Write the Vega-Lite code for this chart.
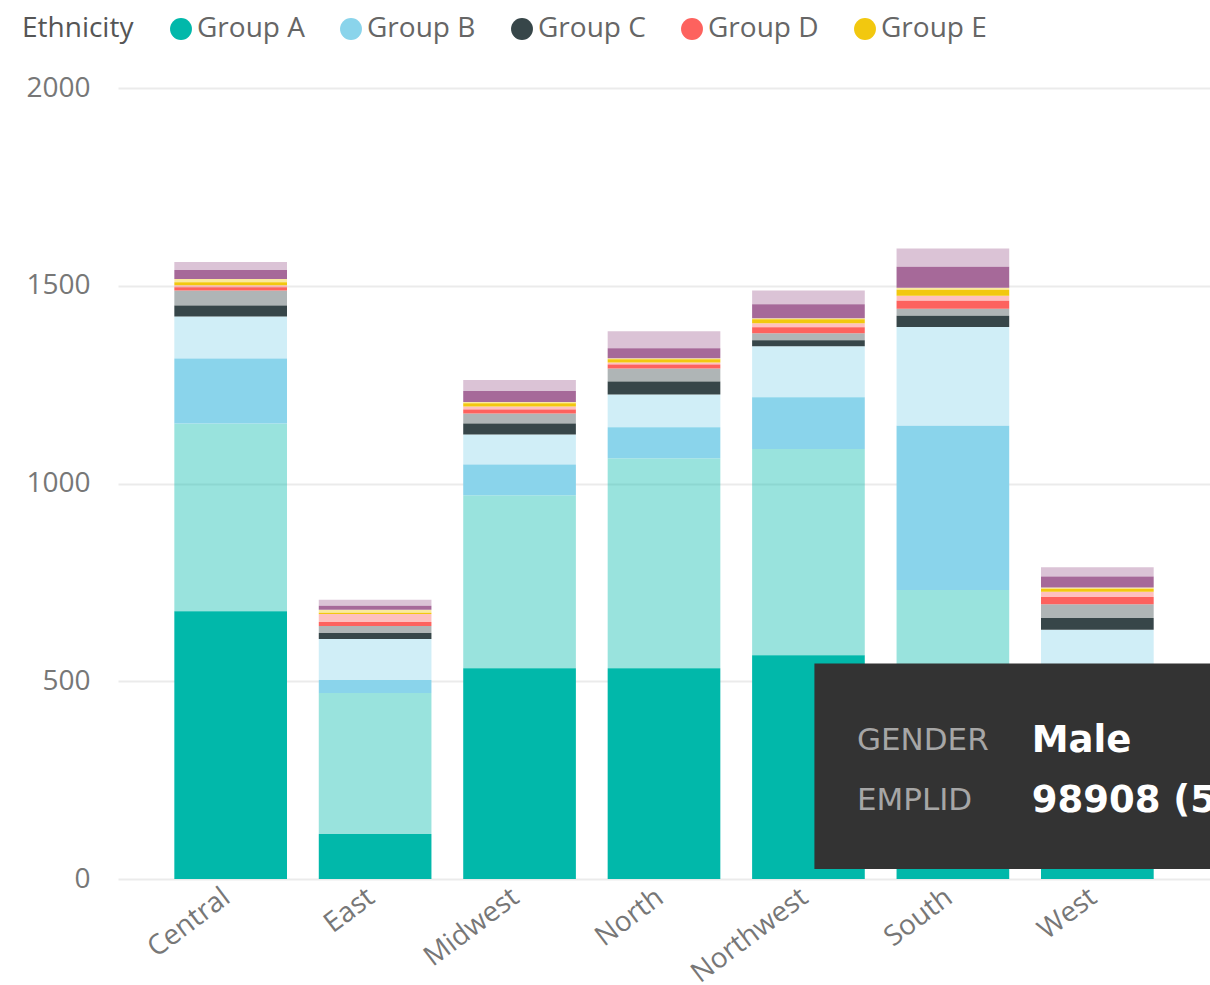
{
  "$schema": "https://vega.github.io/schema/vega-lite/v6.json",
  "autosize": {"type": "none"},
  "padding": {"left": 118, "top": 88, "right": 0, "bottom": 106},
  "width": 1092,
  "height": 791,
  "background": "white",
  "config": {
    "view": {"stroke": null},
    "font": "Open Sans",
    "axis": {"labelFont": "Open Sans", "labelColor": "#777777", "labelFontSize": 28}
  },
  "datasets": {
    "main": [
      {"region": "Central", "ethnicity": "Group A", "gender": "Male", "count": 677},
      {"region": "Central", "ethnicity": "Group A", "gender": "Female", "count": 475},
      {"region": "Central", "ethnicity": "Group B", "gender": "Male", "count": 164},
      {"region": "Central", "ethnicity": "Group B", "gender": "Female", "count": 106},
      {"region": "Central", "ethnicity": "Group C", "gender": "Male", "count": 28},
      {"region": "Central", "ethnicity": "Group C", "gender": "Female", "count": 38},
      {"region": "Central", "ethnicity": "Group D", "gender": "Male", "count": 8},
      {"region": "Central", "ethnicity": "Group D", "gender": "Female", "count": 5},
      {"region": "Central", "ethnicity": "Group E", "gender": "Male", "count": 8},
      {"region": "Central", "ethnicity": "Group E", "gender": "Female", "count": 8},
      {"region": "Central", "ethnicity": "Group F", "gender": "Male", "count": 23},
      {"region": "Central", "ethnicity": "Group F", "gender": "Female", "count": 20},
      {"region": "East", "ethnicity": "Group A", "gender": "Male", "count": 114},
      {"region": "East", "ethnicity": "Group A", "gender": "Female", "count": 356},
      {"region": "East", "ethnicity": "Group B", "gender": "Male", "count": 33},
      {"region": "East", "ethnicity": "Group B", "gender": "Female", "count": 104},
      {"region": "East", "ethnicity": "Group C", "gender": "Male", "count": 15},
      {"region": "East", "ethnicity": "Group C", "gender": "Female", "count": 18},
      {"region": "East", "ethnicity": "Group D", "gender": "Male", "count": 10},
      {"region": "East", "ethnicity": "Group D", "gender": "Female", "count": 20},
      {"region": "East", "ethnicity": "Group E", "gender": "Male", "count": 3},
      {"region": "East", "ethnicity": "Group E", "gender": "Female", "count": 8},
      {"region": "East", "ethnicity": "Group F", "gender": "Male", "count": 10},
      {"region": "East", "ethnicity": "Group F", "gender": "Female", "count": 15},
      {"region": "Midwest", "ethnicity": "Group A", "gender": "Male", "count": 533},
      {"region": "Midwest", "ethnicity": "Group A", "gender": "Female", "count": 437},
      {"region": "Midwest", "ethnicity": "Group B", "gender": "Male", "count": 78},
      {"region": "Midwest", "ethnicity": "Group B", "gender": "Female", "count": 76},
      {"region": "Midwest", "ethnicity": "Group C", "gender": "Male", "count": 28},
      {"region": "Midwest", "ethnicity": "Group C", "gender": "Female", "count": 25},
      {"region": "Midwest", "ethnicity": "Group D", "gender": "Male", "count": 10},
      {"region": "Midwest", "ethnicity": "Group D", "gender": "Female", "count": 8},
      {"region": "Midwest", "ethnicity": "Group E", "gender": "Male", "count": 8},
      {"region": "Midwest", "ethnicity": "Group E", "gender": "Female", "count": 3},
      {"region": "Midwest", "ethnicity": "Group F", "gender": "Male", "count": 28},
      {"region": "Midwest", "ethnicity": "Group F", "gender": "Female", "count": 28},
      {"region": "North", "ethnicity": "Group A", "gender": "Male", "count": 533},
      {"region": "North", "ethnicity": "Group A", "gender": "Female", "count": 531},
      {"region": "North", "ethnicity": "Group B", "gender": "Male", "count": 78},
      {"region": "North", "ethnicity": "Group B", "gender": "Female", "count": 83},
      {"region": "North", "ethnicity": "Group C", "gender": "Male", "count": 33},
      {"region": "North", "ethnicity": "Group C", "gender": "Female", "count": 33},
      {"region": "North", "ethnicity": "Group D", "gender": "Male", "count": 10},
      {"region": "North", "ethnicity": "Group D", "gender": "Female", "count": 5},
      {"region": "North", "ethnicity": "Group E", "gender": "Male", "count": 8},
      {"region": "North", "ethnicity": "Group E", "gender": "Female", "count": 3},
      {"region": "North", "ethnicity": "Group F", "gender": "Male", "count": 25},
      {"region": "North", "ethnicity": "Group F", "gender": "Female", "count": 43},
      {"region": "Northwest", "ethnicity": "Group A", "gender": "Male", "count": 566},
      {"region": "Northwest", "ethnicity": "Group A", "gender": "Female", "count": 521},
      {"region": "Northwest", "ethnicity": "Group B", "gender": "Male", "count": 131},
      {"region": "Northwest", "ethnicity": "Group B", "gender": "Female", "count": 129},
      {"region": "Northwest", "ethnicity": "Group C", "gender": "Male", "count": 15},
      {"region": "Northwest", "ethnicity": "Group C", "gender": "Female", "count": 18},
      {"region": "Northwest", "ethnicity": "Group D", "gender": "Male", "count": 15},
      {"region": "Northwest", "ethnicity": "Group D", "gender": "Female", "count": 10},
      {"region": "Northwest", "ethnicity": "Group E", "gender": "Male", "count": 10},
      {"region": "Northwest", "ethnicity": "Group E", "gender": "Female", "count": 3},
      {"region": "Northwest", "ethnicity": "Group F", "gender": "Male", "count": 35},
      {"region": "Northwest", "ethnicity": "Group F", "gender": "Female", "count": 35},
      {"region": "South", "ethnicity": "Group A", "gender": "Male", "count": 380},
      {"region": "South", "ethnicity": "Group A", "gender": "Female", "count": 351},
      {"region": "South", "ethnicity": "Group B", "gender": "Male", "count": 415},
      {"region": "South", "ethnicity": "Group B", "gender": "Female", "count": 250},
      {"region": "South", "ethnicity": "Group C", "gender": "Male", "count": 28},
      {"region": "South", "ethnicity": "Group C", "gender": "Female", "count": 18},
      {"region": "South", "ethnicity": "Group D", "gender": "Male", "count": 20},
      {"region": "South", "ethnicity": "Group D", "gender": "Female", "count": 13},
      {"region": "South", "ethnicity": "Group E", "gender": "Male", "count": 15},
      {"region": "South", "ethnicity": "Group E", "gender": "Female", "count": 5},
      {"region": "South", "ethnicity": "Group F", "gender": "Male", "count": 53},
      {"region": "South", "ethnicity": "Group F", "gender": "Female", "count": 46},
      {"region": "West", "ethnicity": "Group A", "gender": "Male", "count": 230},
      {"region": "West", "ethnicity": "Group A", "gender": "Female", "count": 240},
      {"region": "West", "ethnicity": "Group B", "gender": "Male", "count": 60},
      {"region": "West", "ethnicity": "Group B", "gender": "Female", "count": 100},
      {"region": "West", "ethnicity": "Group C", "gender": "Male", "count": 30},
      {"region": "West", "ethnicity": "Group C", "gender": "Female", "count": 35},
      {"region": "West", "ethnicity": "Group D", "gender": "Male", "count": 18},
      {"region": "West", "ethnicity": "Group D", "gender": "Female", "count": 13},
      {"region": "West", "ethnicity": "Group E", "gender": "Male", "count": 8},
      {"region": "West", "ethnicity": "Group E", "gender": "Female", "count": 3},
      {"region": "West", "ethnicity": "Group F", "gender": "Male", "count": 28},
      {"region": "West", "ethnicity": "Group F", "gender": "Female", "count": 23}
    ],
    "tip": [
      {"label": "GENDER", "value": "Male", "y": 349},
      {"label": "EMPLID", "value": "98908 (51.42%)", "y": 197}
    ]
  },
  "layer": [
    {
      "data": {"name": "main"},
      "transform": [
        {"calculate": "datum.ethnicity + (datum.gender == 'Male' ? '0' : '1')", "as": "stackKey"}
      ],
      "mark": {"type": "bar"},
      "encoding": {
        "x": {
          "field": "region", "type": "nominal",
          "scale": {"paddingInner": 0.22, "paddingOuter": 0.39},
          "axis": {"title": null, "labelAngle": -37, "domain": false, "ticks": false, "labelPadding": 4, "labelOffset": -12, "labelColor": "#777777", "labelFontSize": 28}
        },
        "y": {
          "field": "count", "type": "quantitative", "aggregate": "sum", "stack": "zero",
          "scale": {"domain": [0, 2000], "nice": false},
          "axis": {"title": null, "format": "d", "values": [0, 500, 1000, 1500, 2000], "domain": false, "ticks": false, "labelPadding": 28, "gridColor": "#ebebeb", "gridWidth": 2, "labelColor": "#777777", "labelFontSize": 28}
        },
        "color": {
          "field": "ethnicity", "type": "nominal",
          "scale": {"domain": ["Group A", "Group B", "Group C", "Group D", "Group E", "Group F"], "range": ["#01B8AA", "#8AD4EB", "#374649", "#FD625E", "#F2C80F", "#A66999"]},
          "legend": {
            "title": "Ethnicity", "values": ["Group A", "Group B", "Group C", "Group D", "Group E"],
            "orient": "none", "legendX": -96, "legendY": -73, "direction": "horizontal",
            "titleOrient": "left", "titleFontSize": 28, "titleFontWeight": "normal", "titleColor": "#555555", "titlePadding": 33, "titleFont": "Open Sans",
            "labelFontSize": 28, "labelColor": "#666666", "labelFont": "Open Sans", "labelOffset": 2,
            "symbolType": "circle", "symbolSize": 480, "symbolOpacity": 1, "symbolStrokeWidth": 0, "columnPadding": 32
          }
        },
        "opacity": {
          "field": "gender", "type": "nominal",
          "scale": {"domain": ["Male", "Female"], "range": [1, 0.4]},
          "legend": null
        },
        "order": {"field": "stackKey", "type": "nominal", "sort": "ascending"}
      }
    },
    {
      "data": {"values": [{}]},
      "mark": {"type": "rect", "color": "#333333", "clip": true},
      "encoding": {
        "x": {"datum": "Northwest", "bandPosition": 0.553},
        "x2": {"datum": "West", "bandPosition": 2},
        "y": {"datum": 545},
        "y2": {"datum": 25}
      }
    },
    {
      "data": {"name": "tip"},
      "mark": {"type": "text", "align": "left", "baseline": "middle", "color": "#a6a6a6", "fontSize": 31, "font": "DejaVu Sans", "clip": true},
      "encoding": {
        "x": {"datum": "Northwest", "bandPosition": 0.93},
        "y": {"field": "y", "type": "quantitative"},
        "text": {"field": "label"}
      }
    },
    {
      "data": {"name": "tip"},
      "mark": {"type": "text", "align": "left", "baseline": "middle", "color": "#ffffff", "fontSize": 37, "fontWeight": "bold", "font": "DejaVu Sans", "clip": true},
      "encoding": {
        "x": {"datum": "South", "bandPosition": 1.2},
        "y": {"field": "y", "type": "quantitative"},
        "text": {"field": "value"}
      }
    }
  ]
}
